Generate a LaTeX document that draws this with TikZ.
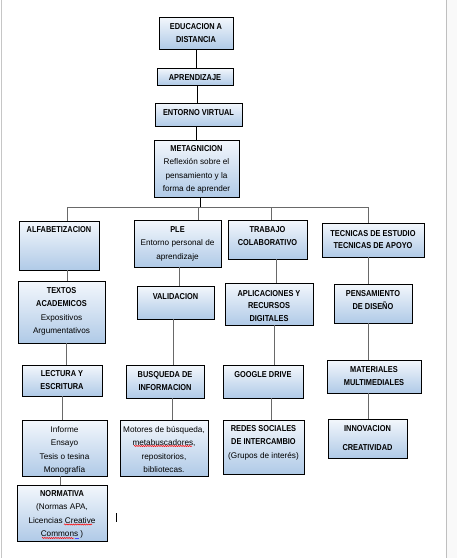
\documentclass[tikz,border=0pt]{standalone}
\usepackage{fontspec}
\setmainfont{Liberation Sans}
\newfontfamily\hdfont[FakeStretch=0.86]{Liberation Sans}
\usetikzlibrary{decorations.pathmorphing}
\definecolor{topc}{RGB}{243,247,252}
\definecolor{botc}{RGB}{176,202,231}
\definecolor{linec}{RGB}{105,105,105}
\newcommand\hdr[1]{{\hdfont\bfseries\fontsize{8.6}{13.5}\selectfont #1}}
\newcommand\mkbox[5]{\node[box, minimum width={#4pt-#2pt}, minimum height={#5pt-#3pt}] (#1) at ({(#2+#4)/2},{(#3+#5)/2}) {};}
\newcommand\vconn[3]{\coordinate (tmpx) at (#3,0); \draw[conn] (#1.south -| tmpx) -- (#2.north -| tmpx);}
\begin{document}
\begin{tikzpicture}[x=1pt,y=-1pt,
  box/.style={draw=black, line width=0.9pt, top color=topc, bottom color=botc, inner sep=0pt, outer sep=0pt},
  txt/.style={anchor=north, align=center, inner sep=0pt, font=\fontsize{8.2}{13.5}\selectfont},
  conn/.style={draw=linec, line width=0.9pt},
  squig/.style={draw=red, line width=0.5pt, decorate, decoration={snake, amplitude=0.6pt, segment length=2.2pt}}]
\useasboundingbox (0,0) rectangle (457,558);
\fill[white] (0,0) rectangle (457,558);
\fill[gray!5] (446.5,0) rectangle (457,558);
\draw[gray!50, line width=1pt] (446,0) -- (446,558);
\draw[gray!45, line width=1pt] (1.5,0) -- (1.5,558);

% boxes
\mkbox{edu}{159}{17}{233}{49}
\mkbox{apr}{157}{68}{233}{85}
\mkbox{ent}{155}{103}{242}{126}
\mkbox{meta}{154}{140}{239}{197}
\mkbox{alf}{19}{221}{99}{270}
\mkbox{ple}{134}{220}{221}{267}
\mkbox{trab}{228}{220}{307}{259}
\mkbox{tec}{322}{223}{424}{257}
\mkbox{textos}{18}{281}{105}{343}
\mkbox{valid}{137}{286}{214}{319}
\mkbox{aplic}{225}{283}{313}{325}
\mkbox{pens}{334}{284}{412}{323}
\mkbox{lect}{22}{365}{102}{396}
\mkbox{busq}{126}{365}{204}{398}
\mkbox{google}{223}{365}{303}{398}
\mkbox{mat}{327}{360}{421}{393}
\mkbox{inf}{22}{420}{107}{476}
\mkbox{mot}{120}{420}{208}{476}
\mkbox{redes}{223}{420}{304}{474}
\mkbox{innov}{328}{419}{407}{458}
\mkbox{norm}{17}{485}{107}{541}

% texts
\node[txt] (eduT) at ([yshift=-6pt]edu.north) {\hdr{EDUCACION A}\\\hdr{DISTANCIA}};
\node[txt] (aprT) at ([yshift=-6pt]apr.north) {\hdr{APRENDIZAJE}};
\node[txt] (entT) at ([yshift=-6pt]ent.north) {\hdr{ENTORNO VIRTUAL}};
\node[txt] (metaT) at ([yshift=-5pt]meta.north) {\hdr{METAGNICION}\\Reflexión sobre el\\pensamiento y la\\forma de aprender};
\node[txt] (alfT) at ([yshift=-5pt]alf.north) {\hdr{ALFABETIZACION}};
\node[txt] (pleT) at ([yshift=-6pt]ple.north) {\hdr{PLE}\\Entorno personal de\\aprendizaje};
\node[txt] (trabT) at ([yshift=-6pt]trab.north) {\hdr{TRABAJO}\\\hdr{COLABORATIVO}};
\node[txt] (tecT) at ([yshift=-7pt]tec.north) {\hdr{TECNICAS DE ESTUDIO}\\[-1pt]\hdr{TECNICAS DE APOYO}};
\node[txt] (textosT) at ([yshift=-6pt]textos.north) {\hdr{TEXTOS}\\\hdr{ACADEMICOS}\\Expositivos\\Argumentativos};
\node[txt] (validT) at ([yshift=-7pt]valid.north) {\hdr{VALIDACION}};
\node[txt] (aplicT) at ([yshift=-7pt]aplic.north) {\hdr{APLICACIONES Y}\\[-1pt]\hdr{RECURSOS}\\[-1pt]\hdr{DIGITALES}};
\node[txt] (pensT) at ([yshift=-6pt]pens.north) {\hdr{PENSAMIENTO}\\\hdr{DE DISEÑO}};
\node[txt] (lectT) at ([yshift=-5pt]lect.north) {\hdr{LECTURA Y}\\\hdr{ESCRITURA}};
\node[txt] (busqT) at ([yshift=-6pt]busq.north) {\hdr{BUSQUEDA DE}\\\hdr{INFORMACION}};
\node[txt] (googleT) at ([yshift=-6pt]google.north) {\hdr{GOOGLE DRIVE}};
\node[txt] (matT) at ([yshift=-6pt]mat.north) {\hdr{MATERIALES}\\\hdr{MULTIMEDIALES}};
\node[txt] (infT) at ([yshift=-6pt]inf.north) {Informe\\Ensayo\\Tesis o tesina\\Monografía};
\node[txt] (motT) at ([yshift=-6pt]mot.north) {Motores de búsqueda,\\metabuscadores,\\repositorios,\\bibliotecas.};
\node[txt] (redesT) at ([yshift=-5pt]redes.north) {\hdr{REDES SOCIALES}\\\hdr{DE INTERCAMBIO}\\(Grupos de interés)};
\node[txt] (innovT) at ([yshift=-6pt]innov.north) {\hdr{INNOVACION}\\[5.5pt]\hdr{CREATIVIDAD}};
\node[txt] (normT) at ([yshift=-5pt]norm.north) {\hdr{NORMATIVA}\\(Normas APA,\\Licencias Creative\\Commons )};

% top chain
\coordinate (k1) at (196,0);
\draw[conn, draw=black] (edu.south -| k1) -- (apr.north -| k1);
\coordinate (k2) at (197,0);
\draw[conn, draw=black] (apr.south -| k2) -- (ent.north -| k2);
\coordinate (k3) at (196,0);
\draw[conn, draw=black] (ent.south -| k3) -- (meta.north -| k3);

% bus
\coordinate (busM) at (200,207);
\coordinate (busL) at (67,207);
\coordinate (busR) at (368,207);
\coordinate (busP) at (198,207);
\coordinate (busT) at (271,207);
\draw[conn, draw=black] (meta.south -| busM) -- (busM);
\draw[conn] (busL) -- (busR);
\draw[conn] (busL) -- (busL |- alf.north);
\draw[conn] (busP) -- (busP |- ple.north);
\draw[conn] (busT) -- (busT |- trab.north);
\draw[conn] (busR) -- (busR |- tec.north);

% columns
\vconn{alf}{textos}{67}
\vconn{textos}{lect}{66}
\vconn{lect}{inf}{62}
\vconn{inf}{norm}{60}
\vconn{ple}{valid}{179}
\vconn{valid}{busq}{173}
\vconn{busq}{mot}{172}
\vconn{trab}{aplic}{276}
\vconn{aplic}{google}{274}
\vconn{google}{redes}{271}
\vconn{tec}{pens}{368}
\vconn{pens}{mat}{368}
\vconn{mat}{innov}{368}

% spell-check squiggles and cursor
\draw[squig] (134,446) -- (192,446);
\draw[squig] (64,524.5) -- (92,524.5);
\draw[squig] (42,538) -- (74,538);
\draw[draw=blue!70, line width=0.5pt] (75,538) -- (79,538);
\draw[line width=0.8pt] (116,513) -- (116,522);
\end{tikzpicture}
\end{document}
